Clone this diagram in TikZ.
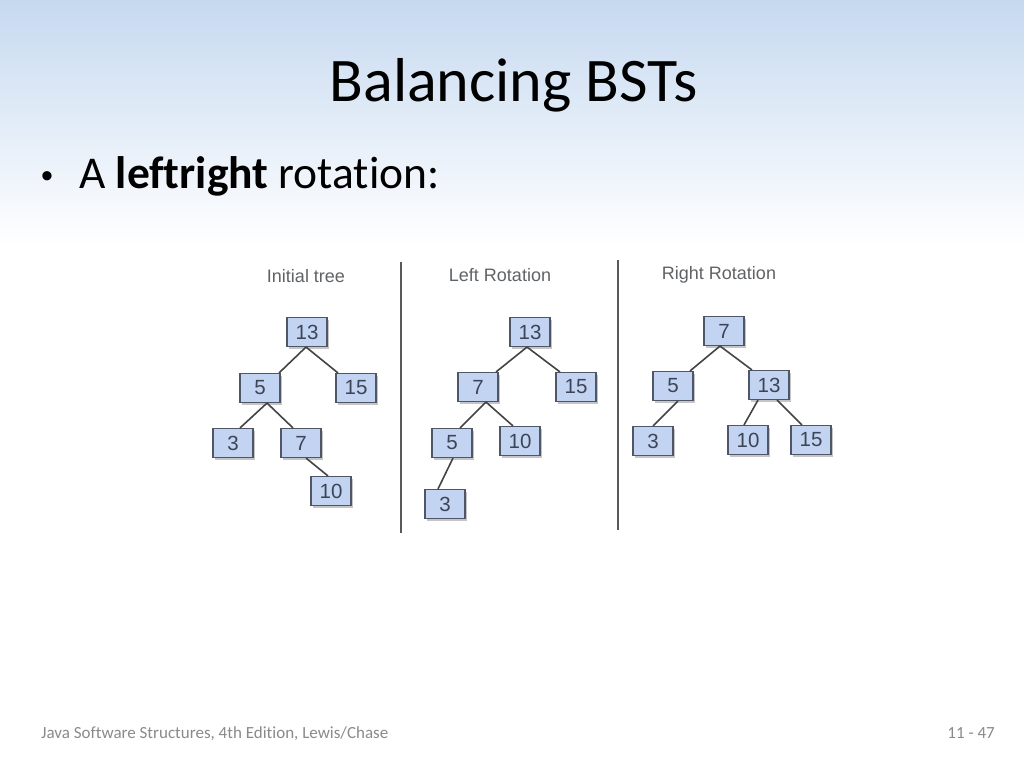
\documentclass[tikz,border=0pt]{standalone}
\usepackage{fontspec}
\setmainfont{Carlito}[Ligatures=NoCommon]
\newfontfamily\arialf{Liberation Sans}
\usetikzlibrary{calc,shadows}
\definecolor{bgblue}{HTML}{C6D9F0}
\definecolor{boxfill}{HTML}{C3D4F2}
\definecolor{boxline}{HTML}{4F5666}
\definecolor{numcol}{HTML}{3C4455}
\definecolor{lblgray}{HTML}{606366}
\definecolor{footgray}{HTML}{8A8A8A}
\definecolor{edgecol}{HTML}{444444}
\tikzset{
  bstnode/.style={draw=boxline, line width=1.1pt, fill=boxfill, minimum width=40pt, minimum height=29pt, inner sep=0pt,
    font=\arialf\fontsize{20.5}{22}\selectfont, text=numcol,
    drop shadow={shadow xshift=2pt, shadow yshift=-2pt, fill=black!45, opacity=0.5}},
  bstedge/.style={draw=edgecol, line width=1.6pt},
  panellbl/.style={font=\arialf\fontsize{18}{20}\selectfont, text=lblgray, anchor=base},
  divider/.style={draw=black!65, line width=1.5pt},
  foottext/.style={font=\fontsize{17}{20}\selectfont, text=footgray, inner sep=0pt},
}
\begin{document}
\begin{tikzpicture}[x=1pt,y=-1pt]
\useasboundingbox (0,0) rectangle (1024,768);
\fill[white] (0,0) rectangle (1024,768);
\shade[top color=bgblue, bottom color=white] (0,0) rectangle (1024,245);
% title and bullet
\node[anchor=base, font=\fontsize{62}{70}\selectfont] (title) at (513.5,101) {Balancing BSTs};
\node[anchor=base west, font=\arialf\fontsize{34}{40}\selectfont, inner sep=0pt] (dot) at (41,187) {•};
\node[anchor=base west, font=\fontsize{45.5}{50}\selectfont, inner sep=0pt] (bullet) at (79,188) {A \textbf{leftright} rotation:};
% footer
\node[anchor=base west, foottext] (foot) at (41,738) {Java Software Structures, 4th Edition, Lewis/Chase};
\node[anchor=base east, foottext] (page) at (995,738) {11 - 47};
% dividers
\draw[divider] (401,262) -- (401,533);
\draw[divider] (618,260) -- (618,530);
% panel labels
\node[panellbl] (l1) at (306,282) {Initial tree};
\node[panellbl] (l2) at (500,281) {Left Rotation};
\node[panellbl] (l3) at (719,279) {Right Rotation};
% Initial tree
\node[bstnode] (a13) at (307,332) {13};
\node[bstnode] (a5) at (260,388) {5};
\node[bstnode] (a15) at (356,388) {15};
\node[bstnode] (a3) at (233,443) {3};
\node[bstnode] (a7) at (301,443) {7};
\node[bstnode] (a10) at (331,491) {10};
\draw[bstedge] ($(a13.south)+(-1,0)$) -- ($(a5.north)+(19,0)$);
\draw[bstedge] ($(a13.south)+(-1,0)$) -- ($(a15.north)+(-18,0)$);
\draw[bstedge] ($(a5.south)+(7,0)$) -- ($(a3.north)+(7,0)$);
\draw[bstedge] ($(a5.south)+(7,0)$) -- ($(a7.north)+(-8,0)$);
\draw[bstedge] ($(a7.south)+(5,0)$) -- ($(a10.north)+(-3,0)$);
% Left rotation
\node[bstnode] (b13) at (530,332) {13};
\node[bstnode] (b7) at (478,387) {7};
\node[bstnode] (b15) at (576,387) {15};
\node[bstnode] (b5) at (452,443) {5};
\node[bstnode] (b10) at (520,441) {10};
\node[bstnode] (b3) at (445,504) {3};
\draw[bstedge] ($(b13.south)+(-3,0)$) -- ($(b7.north)+(18,0)$);
\draw[bstedge] ($(b13.south)+(-3,0)$) -- ($(b15.north)+(-16,0)$);
\draw[bstedge] ($(b7.south)+(8,0)$) -- ($(b5.north)+(8,0)$);
\draw[bstedge] ($(b7.south)+(8,0)$) -- ($(b10.north)+(-7,0)$);
\draw[bstedge] ($(b5.south)+(1,0)$) -- ($(b3.north)+(-7,0)$);
% Right rotation
\node[bstnode] (c7) at (724,331) {7};
\node[bstnode] (c5) at (673,386) {5};
\node[bstnode] (c13) at (769,385) {13};
\node[bstnode] (c3) at (653,441) {3};
\node[bstnode] (c10) at (748,440) {10};
\node[bstnode] (c15) at (811,440) {15};
\draw[bstedge] ($(c7.south)+(-4,0)$) -- ($(c5.north)+(17,0)$);
\draw[bstedge] ($(c7.south)+(-4,0)$) -- ($(c13.north)+(-17,0)$);
\draw[bstedge] ($(c5.south)+(5,0)$) -- ($(c3.north)+(0,0)$);
\draw[bstedge] ($(c13.south)+(-11,0)$) -- ($(c10.north)+(-4,0)$);
\draw[bstedge] ($(c13.south)+(8,0)$) -- ($(c15.north)+(-9,0)$);
\end{tikzpicture}
\end{document}
